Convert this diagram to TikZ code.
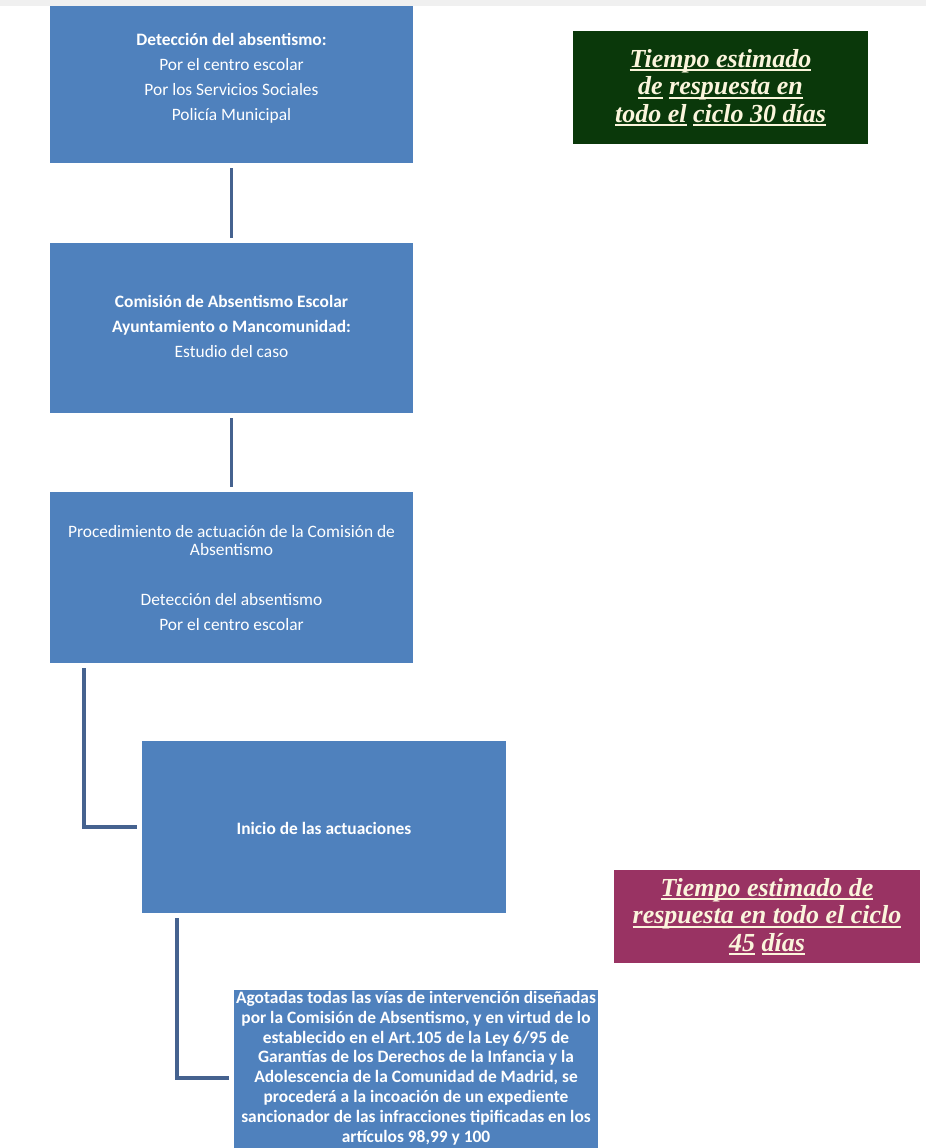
\documentclass[tikz,border=0pt]{standalone}
\usepackage{fontspec}
\setmainfont{Carlito}
\newfontfamily\serifbi{Liberation Serif}
\usetikzlibrary{calc}
\definecolor{boxblue}{HTML}{4F81BD}
\definecolor{linkblue}{HTML}{45628F}
\definecolor{darkgreen}{HTML}{0A380A}
\definecolor{wine}{HTML}{993363}
\definecolor{cream}{HTML}{FBF5DC}
\newcommand{\ulw}[1]{\setbox0\hbox{#1}\rlap{\rule[-4pt]{\wd0}{1.6pt}}\box0\relax}
\tikzset{
  x=1pt, y=-1pt,
  bluebox/.style={fill=boxblue, draw=none, minimum width=363pt, inner sep=0pt},
  boxtext/.style={text=white, align=center, inner sep=0pt, font=\fontsize{17.4}{17.5}\selectfont},
  link/.style={draw=linkblue, line width=3.8pt, shorten <=5pt, shorten >=5pt},
  timebox/.style={draw=none, text=cream, align=center, inner sep=0pt, font=\serifbi\bfseries\itshape\fontsize{26}{27.5}\selectfont},
}
\begin{document}
\begin{tikzpicture}
\useasboundingbox (0,0) rectangle (926,1148);
\fill[white] (0,0) rectangle (926,1148);
\fill[black!6] (0,0) rectangle (926,6);
% boxes
\node[bluebox, minimum height=157pt] (b1) at (231.5,84.5) {};
\node[boxtext] (b1t) at (231.5,78) {\textbf{Detección del absentismo:}\\[7.5pt]Por el centro escolar\\[7.5pt]Por los Servicios Sociales\\[7.5pt]Policía Municipal};
\node[bluebox, minimum height=170pt] (b2) at (231.5,328) {};
\node[boxtext] (b2t) at (231.5,326) {\textbf{Comisión de Absentismo Escolar}\\[7.5pt]\textbf{Ayuntamiento o Mancomunidad:}\\[7.5pt]Estudio del caso};
\node[bluebox, minimum height=171pt] (b3) at (231.5,577.5) {};
\node[boxtext] (b3t) at (231.5,578) {Procedimiento de actuación de la Comisión de\\Absentismo\\[32.5pt]Detección del absentismo\\[7.5pt]Por el centro escolar};
\node[bluebox, minimum height=172pt, minimum width=364pt] (b4) at (324,827) {};
\node[boxtext, font=\bfseries\fontsize{17.4}{17.5}\selectfont] (b4t) at (324,828) {Inicio de las actuaciones};
\node[bluebox, minimum height=176pt, minimum width=364pt] (b5) at (416,1078) {};
\node[boxtext, font=\bfseries\fontsize{17.4}{19.8}\selectfont] (b5t) at (416,1068) {Agotadas todas las vías de intervención diseñadas\\por la Comisión de Absentismo, y en virtud de lo\\establecido en el Art.105 de la Ley 6/95 de\\Garantías de los Derechos de la Infancia y la\\Adolescencia de la Comunidad de Madrid, se\\procederá a la incoación de un expediente\\sancionador de las infracciones tipificadas en los\\artículos 98,99 y 100};
% time boxes
\node[timebox, fill=darkgreen, minimum width=295pt, minimum height=113pt] (g) at (720.5,87.5) {\ulw{Tiempo estimado}\\\ulw{de} \ulw{respuesta en}\\\ulw{todo el} \ulw{ciclo 30 días}};
\node[timebox, fill=wine, minimum width=306pt, minimum height=93pt] (m) at (767,916.5) {\ulw{Tiempo estimado de}\\\ulw{respuesta en todo el ciclo}\\\ulw{45} \ulw{días}};
% connectors
\draw[link] (b1.south) -- (b2.north);
\draw[link] (b2.south) -- (b3.north);
\draw[link] ($(b3.south west)+(34,0)$) |- (b4.west);
\draw[link] ($(b4.south west)+(35,0)$) |- (b5.west);
\end{tikzpicture}
\end{document}
